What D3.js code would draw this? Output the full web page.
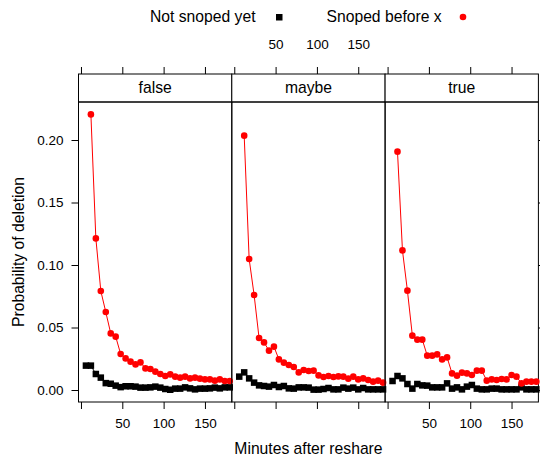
<!DOCTYPE html>
<meta charset="utf-8">
<script src="https://cdn.jsdelivr.net/npm/d3@7"></script>
<style>
 body { margin: 0; background: #fff; }
 svg { font-family: "Liberation Sans", Arial, Helvetica, sans-serif; }
</style>
<div id="chart"></div>
<script>

 // minutes after reshare (black series starts at 6, red at 12)
 const minutes = [6, 12, 18, 24, 30, 36, 42, 48, 54, 60, 66, 72, 78, 84, 90,
                  96, 102, 108, 114, 120, 126, 132, 138, 144, 150, 156, 162, 168, 174, 180];
 const panels = ["false", "maybe", "true"];

 // Not snoped yet (30 values, minutes 6..180)
 const notSnopedFalse = [0.0195, 0.0195, 0.0128, 0.0099, 0.0055, 0.0050, 0.0035, 0.0023, 0.0030, 0.0030,
                         0.0027, 0.0019, 0.0019, 0.0021, 0.0027, 0.0019, 0.0008, 0.0002, 0.0011, 0.0011,
                         0.0021, 0.0013, 0.0005, 0.0011, 0.0011, 0.0013, 0.0019, 0.0013, 0.0021, 0.0021];
 const notSnopedMaybe = [0.0107, 0.0141, 0.0093, 0.0059, 0.0037, 0.0032, 0.0027, 0.0040, 0.0024, 0.0032,
                         0.0013, 0.0011, 0.0021, 0.0021, 0.0019, 0.0003, 0.0003, 0.0008, 0.0016, 0.0005,
                         0.0005, 0.0019, 0.0011, 0.0019, 0.0005, 0.0016, 0.0005, 0.0005, 0.0005, 0.0005];
 const notSnopedTrue  = [0.0072, 0.0112, 0.0093, 0.0048, 0.0011, 0.0048, 0.0037, 0.0035, 0.0021, 0.0021,
                         0.0021, 0.0053, 0.0011, 0.0021, 0.0005, 0.0027, 0.0040, 0.0011, 0.0005, 0.0005,
                         0.0011, 0.0011, 0.0005, 0.0005, 0.0005, 0.0005, 0.0021, 0.0005, 0.0005, 0.0005];

 // Snoped before x (29 values, minutes 12..180)
 const snopedFalse = [0.2205, 0.1213, 0.0792, 0.0624, 0.0453, 0.0427, 0.0288, 0.0253, 0.0227, 0.0205,
                      0.0221, 0.0173, 0.0168, 0.0147, 0.0128, 0.0112, 0.0125, 0.0107, 0.0099, 0.0107,
                      0.0093, 0.0099, 0.0091, 0.0085, 0.0085, 0.0075, 0.0085, 0.0072, 0.0072];
 const snopedMaybe = [0.2035, 0.1048, 0.0760, 0.0416, 0.0381, 0.0315, 0.0347, 0.0245, 0.0219, 0.0200,
                      0.0184, 0.0141, 0.0160, 0.0152, 0.0155, 0.0117, 0.0104, 0.0112, 0.0104, 0.0109,
                      0.0107, 0.0091, 0.0107, 0.0085, 0.0093, 0.0080, 0.0067, 0.0075, 0.0059];
 const snopedTrue  = [0.1907, 0.1117, 0.0795, 0.0435, 0.0403, 0.0403, 0.0275, 0.0275, 0.0285, 0.0245,
                      0.0261, 0.0133, 0.0115, 0.0139, 0.0133, 0.0120, 0.0155, 0.0155, 0.0075, 0.0085,
                      0.0080, 0.0088, 0.0085, 0.0120, 0.0107, 0.0053, 0.0067, 0.0067, 0.0067];

 const xTicks = [0, 50, 100, 150];
 const yTicks = [0, 0.05, 0.10, 0.15, 0.20];

 const notSnoped = [notSnopedFalse, notSnopedMaybe, notSnopedTrue];
 const snoped = [snopedFalse, snopedMaybe, snopedTrue];

 const width = 540, height = 457;
 const left = 78.5, panelW = 153.3;
 const stripTop = 74, plotTop = 102, plotBottom = 402;
 const fontBig = "15.7px", fontTick = "13.5px";

 const svg = d3.select("#chart").append("svg")
               .attr("width", width)
               .attr("height", height);

 const x = d3.scaleLinear().domain([-3, 182.5]).range([0, panelW]);
 const y = d3.scaleLinear().domain([-0.0096, 0.2304]).range([plotBottom, plotTop]);

 // legend
 const legend = svg.append("g").style("font-size", fontBig);
 legend.append("text").attr("x", 150).attr("y", 17).attr("dy", "0.35em").text("Not snoped yet");
 legend.append("rect").attr("x", 276).attr("y", 14).attr("width", 6.5).attr("height", 6.5).attr("fill", "#000");
 legend.append("text").attr("x", 326.5).attr("y", 17).attr("dy", "0.35em").text("Snoped before x");
 legend.append("circle").attr("cx", 463).attr("cy", 17).attr("r", 3.3).attr("fill", "#ff0000");

 panels.forEach((name, i) => {
     const x0 = left + i * panelW;
     const g = svg.append("g").attr("transform", `translate(${x0},0)`);

     // bottom axis, labels on panels 1 and 3
     g.append("g").attr("transform", `translate(0,${plotBottom})`)
      .call(d3.axisBottom(x).tickValues(xTicks).tickSize(7).tickSizeOuter(0).tickPadding(9)
              .tickFormat(d => (i !== 1 && d !== 0) ? d : ""))
      .call(a => a.select(".domain").remove())
      .style("font-size", fontTick)
      .style("font-family", "inherit");

     // top axis, labels on panel 2
     g.append("g").attr("transform", `translate(0,${stripTop})`)
      .call(d3.axisTop(x).tickValues(xTicks).tickSize(7).tickSizeOuter(0).tickPadding(18)
              .tickFormat(d => (i === 1 && d !== 0) ? d : ""))
      .call(a => a.select(".domain").remove())
      .style("font-size", fontTick)
      .style("font-family", "inherit");

     // strip
     g.append("rect").attr("x", 0).attr("y", stripTop).attr("width", panelW).attr("height", plotTop - stripTop)
      .attr("fill", "#fff").attr("stroke", "#000").attr("stroke-width", 1);
     g.append("text").attr("x", panelW / 2).attr("y", (stripTop + plotTop) / 2).attr("dy", "0.35em")
      .attr("text-anchor", "middle").style("font-size", fontBig).text(name);

     // panel box
     g.append("rect").attr("x", 0).attr("y", plotTop).attr("width", panelW).attr("height", plotBottom - plotTop)
      .attr("fill", "none").attr("stroke", "#000").attr("stroke-width", 1);

     const line = d3.line().x(d => x(d[0])).y(d => y(d[1]));

     // Not snoped yet
     const black = minutes.map((m, k) => [m, notSnoped[i][k]]);
     g.append("path").datum(black).attr("d", line).attr("fill", "none").attr("stroke", "#000").attr("stroke-width", 1);
     g.selectAll(".sq").data(black).join("rect").attr("class", "sq")
      .attr("x", d => x(d[0]) - 3.25).attr("y", d => y(d[1]) - 3.25)
      .attr("width", 6.5).attr("height", 6.5).attr("fill", "#000");

     // Snoped before x
     const red = minutes.slice(1).map((m, k) => [m, snoped[i][k]]);
     g.append("path").datum(red).attr("d", line).attr("fill", "none").attr("stroke", "#ff0000").attr("stroke-width", 1);
     g.selectAll(".dot").data(red).join("circle").attr("class", "dot")
      .attr("cx", d => x(d[0])).attr("cy", d => y(d[1])).attr("r", 3.3).attr("fill", "#ff0000");
 });

 // y axis left (labels) and right (ticks only)
 svg.append("g").attr("transform", `translate(${left},0)`)
    .call(d3.axisLeft(y).tickValues(yTicks).tickSize(7).tickSizeOuter(0).tickPadding(8)
            .tickFormat(d3.format(".2f")))
    .call(a => a.select(".domain").remove())
    .style("font-size", fontTick)
    .style("font-family", "inherit");
 svg.append("g").attr("transform", `translate(${left + 3 * panelW},0)`)
    .call(d3.axisRight(y).tickValues(yTicks).tickSize(7).tickSizeOuter(0).tickFormat(""))
    .call(a => a.select(".domain").remove());

 // axis titles
 svg.append("text").attr("x", left + 1.5 * panelW).attr("y", 448.3).attr("dy", "0.35em")
    .attr("text-anchor", "middle").style("font-size", fontBig).text("Minutes after reshare");
 svg.append("text").attr("transform", `translate(18.3,${(plotTop + plotBottom) / 2}) rotate(-90)`)
    .attr("dy", "0.35em").attr("text-anchor", "middle").style("font-size", fontBig).text("Probability of deletion");

</script>
